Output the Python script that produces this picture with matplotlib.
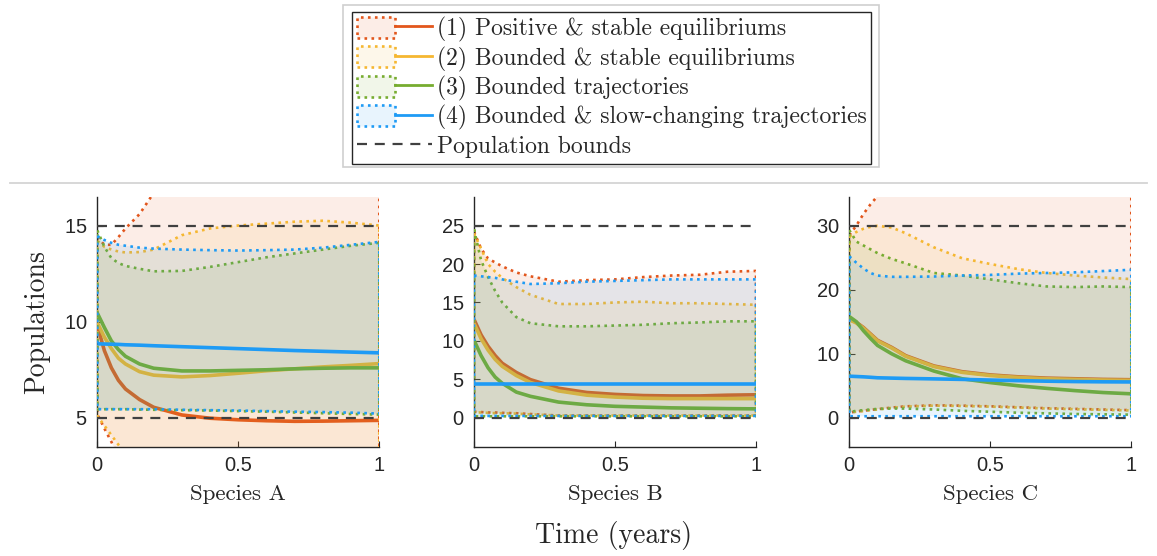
import matplotlib
matplotlib.use('Agg')
import matplotlib.pyplot as plt
from matplotlib.patches import Patch, Rectangle
from matplotlib.lines import Line2D
from matplotlib.legend_handler import HandlerTuple
from matplotlib.colors import to_rgba
import numpy as np

# ---------------- data ----------------
t = [0, 0.025, 0.05, 0.075, 0.1, 0.15, 0.2, 0.3, 0.4, 0.5, 0.6, 0.7, 0.8, 0.9, 1.0]

# Species A
a_red_hi = [14.4, 14.0, 14.0, 14.4, 14.85, 15.6, 16.7, 19, 21, 23, 25, 27, 29, 31, 33]
a_red_lo = [5.2, 4.45, 3.75, 3.0, 2.4, 1.5, 1.0, 0.5, 0.3, 0.2, 0.1, 0.1, 0.1, 0.1, 0.1]
a_red_mu = [9.8, 8.5, 7.6, 6.95, 6.5, 5.95, 5.55, 5.15, 4.98, 4.9, 4.85, 4.82, 4.83, 4.85, 4.87]
a_yel_hi = [14.2, 13.9, 13.75, 13.65, 13.6, 13.62, 13.75, 14.5, 14.85, 15.0, 15.1, 15.2, 15.25, 15.15, 15.0]
a_yel_lo = [5.1, 4.6, 4.1, 3.6, 3.1, 2.4, 1.8, 1.2, 1.0, 0.8, 0.7, 0.6, 0.5, 0.5, 0.5]
a_yel_mu = [9.95, 9.2, 8.6, 8.1, 7.8, 7.4, 7.22, 7.13, 7.2, 7.32, 7.45, 7.55, 7.65, 7.73, 7.82]
a_grn_hi = [14.75, 13.9, 13.3, 13.05, 12.9, 12.75, 12.62, 12.64, 12.85, 13.1, 13.35, 13.55, 13.75, 13.95, 14.1]
a_grn_lo = [5.45, 5.45, 5.45, 5.45, 5.45, 5.43, 5.42, 5.4, 5.38, 5.35, 5.32, 5.28, 5.24, 5.2, 5.17]
a_grn_mu = [10.45, 9.7, 9.0, 8.55, 8.2, 7.8, 7.58, 7.44, 7.44, 7.47, 7.5, 7.55, 7.58, 7.6, 7.6]
a_blu_hi = [14.45, 14.25, 14.1, 14.0, 13.95, 13.85, 13.8, 13.75, 13.72, 13.7, 13.72, 13.75, 13.85, 14.0, 14.15]
a_blu_lo = [5.45, 5.45, 5.45, 5.45, 5.45, 5.45, 5.45, 5.42, 5.4, 5.38, 5.35, 5.32, 5.3, 5.27, 5.22]
a_blu_mu = [8.85, 8.84, 8.83, 8.82, 8.8, 8.78, 8.75, 8.7, 8.65, 8.6, 8.55, 8.5, 8.46, 8.42, 8.38]

# Species B
b_red_hi = [24.2, 22.0, 20.7, 20.2, 19.7, 18.9, 18.4, 17.7, 17.9, 18.0, 18.3, 18.5, 18.6, 19.0, 19.1]
b_red_lo = [0.8, 0.75, 0.7, 0.7, 0.65, 0.6, 0.5, 0.3, 0.3, 0.3, 0.3, 0.3, 0.3, 0.3, 0.3]
b_red_mu = [12.8, 10.8, 9.3, 8.1, 7.1, 5.9, 4.97, 3.85, 3.3, 3.05, 2.9, 2.85, 2.85, 2.95, 3.0]
b_yel_hi = [24.0, 22.0, 20.0, 19.0, 18.2, 17.0, 16.0, 14.8, 14.8, 15.0, 15.1, 14.9, 14.9, 14.8, 14.7]
b_yel_lo = [0.7, 0.7, 0.65, 0.6, 0.6, 0.55, 0.45, 0.3, 0.3, 0.3, 0.3, 0.3, 0.3, 0.3, 0.3]
b_yel_mu = [12.3, 10.3, 8.8, 7.6, 6.7, 5.5, 4.6, 3.5, 2.95, 2.7, 2.55, 2.5, 2.5, 2.5, 2.5]
b_grn_hi = [24.5, 20.5, 18.3, 16.5, 15.0, 13.1, 12.3, 11.9, 11.9, 12.0, 12.1, 12.3, 12.4, 12.55, 12.55]
b_grn_lo = [0.2, 0.2, 0.2, 0.2, 0.2, 0.2, 0.2, 0.2, 0.2, 0.2, 0.2, 0.2, 0.2, 0.2, 0.2]
b_grn_mu = [10.1, 8.1, 6.5, 5.3, 4.5, 3.35, 2.8, 2.05, 1.7, 1.5, 1.4, 1.3, 1.25, 1.2, 1.17]
b_blu_hi = [18.5, 18.4, 18.3, 18.2, 18.0, 17.7, 17.4, 17.5, 17.7, 17.8, 17.9, 18.0, 18.0, 18.0, 18.0]
b_blu_lo = [0.25, 0.25, 0.25, 0.25, 0.25, 0.25, 0.25, 0.25, 0.25, 0.25, 0.25, 0.25, 0.25, 0.25, 0.25]
b_blu_mu = [4.4, 4.4, 4.4, 4.4, 4.4, 4.4, 4.4, 4.4, 4.4, 4.4, 4.4, 4.4, 4.4, 4.4, 4.4]

# Species C
c_red_hi = [28.5, 30.0, 31.8, 33.3, 34.6, 37, 40, 45, 50, 55, 60, 65, 70, 75, 80]
c_red_lo = [0.8, 1.0, 1.1, 1.25, 1.35, 1.6, 1.8, 1.95, 1.9, 1.8, 1.65, 1.5, 1.4, 1.3, 1.2]
c_red_mu = [15.4, 14.9, 14.1, 13.1, 12.1, 11.0, 9.7, 8.1, 7.2, 6.7, 6.4, 6.2, 6.1, 6.0, 5.95]
c_yel_hi = [28.3, 29.0, 29.5, 29.8, 29.95, 29.7, 28.8, 26.6, 24.9, 24.0, 23.2, 22.6, 22.2, 21.9, 21.65]
c_yel_lo = [0.8, 0.95, 1.05, 1.2, 1.3, 1.55, 1.75, 1.9, 1.85, 1.75, 1.6, 1.45, 1.35, 1.25, 1.15]
c_yel_mu = [15.3, 14.8, 14.0, 13.0, 12.0, 10.9, 9.6, 8.0, 7.1, 6.6, 6.3, 6.1, 6.0, 5.9, 5.85]
c_grn_hi = [29.3, 27.5, 26.9, 26.3, 25.7, 24.8, 24.1, 22.6, 22.2, 21.6, 21.0, 20.5, 20.4, 20.5, 20.4]
c_grn_lo = [0.9, 1.1, 1.2, 1.3, 1.4, 1.45, 1.45, 1.3, 1.1, 0.95, 0.8, 0.7, 0.6, 0.55, 0.5]
c_grn_mu = [15.8, 15.0, 13.6, 12.4, 11.3, 10.0, 8.9, 7.3, 6.1, 5.5, 5.0, 4.6, 4.25, 3.95, 3.75]
c_blu_hi = [25.2, 24.2, 23.3, 22.6, 22.2, 22.0, 22.0, 22.05, 22.2, 22.3, 22.5, 22.6, 22.7, 22.9, 23.1]
c_blu_lo = [0.25, 0.25, 0.25, 0.25, 0.25, 0.25, 0.25, 0.25, 0.25, 0.25, 0.25, 0.25, 0.25, 0.25, 0.25]
c_blu_mu = [6.5, 6.45, 6.4, 6.33, 6.25, 6.2, 6.15, 6.08, 6.0, 5.9, 5.8, 5.72, 5.66, 5.62, 5.6]

species = ['Species A', 'Species B', 'Species C']
bounds = [(5, 15), (0, 25), (0, 30)]
yticks = [[5, 10, 15], [0, 5, 10, 15, 20, 25], [0, 10, 20, 30]]
xticks = [0, 0.5, 1]
xticklabels = ['0', '0.5', '1']
legend_labels = ['(1) Positive & stable equilibriums',
                 '(2) Bounded & stable equilibriums',
                 '(3) Bounded trajectories',
                 '(4) Bounded & slow-changing trajectories',
                 'Population bounds']

panels = [
    [(a_red_lo, a_red_hi, a_red_mu), (a_yel_lo, a_yel_hi, a_yel_mu),
     (a_grn_lo, a_grn_hi, a_grn_mu), (a_blu_lo, a_blu_hi, a_blu_mu)],
    [(b_red_lo, b_red_hi, b_red_mu), (b_yel_lo, b_yel_hi, b_yel_mu),
     (b_grn_lo, b_grn_hi, b_grn_mu), (b_blu_lo, b_blu_hi, b_blu_mu)],
    [(c_red_lo, c_red_hi, c_red_mu), (c_yel_lo, c_yel_hi, c_yel_mu),
     (c_grn_lo, c_grn_hi, c_grn_mu), (c_blu_lo, c_blu_hi, c_blu_mu)],
]

# ---------------- style ----------------
colors = ['#E2561C', '#F5B731', '#77AC30', '#1E9BF5']
FILL_ALPHA = 0.1
SERIF = 'cmr10'
TICKFONT = 'Liberation Sans'
plt.rcParams['axes.formatter.use_mathtext'] = True

W, H = 1157, 556
fig = plt.figure(figsize=(W / 100, H / 100), dpi=100)

ax_left_px = [97.3, 474, 849.3]
ax_w_px = 282
ax_bottom_px = 446.7
ax_h_px = 250

tt = np.asarray(t)
axes = []
for k in range(3):
    ax = fig.add_axes([ax_left_px[k] / W, 1 - ax_bottom_px / H, ax_w_px / W, ax_h_px / H])
    axes.append(ax)
    lo_b, hi_b = bounds[k]
    rng = hi_b - lo_b
    for i, (lo, hi, mu) in enumerate(panels[k]):
        xs = np.r_[tt, tt[::-1]]
        ys = np.r_[np.asarray(hi), np.asarray(lo)[::-1]]
        ax.fill(xs, ys, facecolor=to_rgba(colors[i], FILL_ALPHA), edgecolor=colors[i],
                linestyle=':', linewidth=1.9, zorder=2 + 2 * i)
        ax.plot(tt, mu, color=colors[i], linewidth=2.6, zorder=3 + 2 * i,
                solid_capstyle='butt')
    for b in bounds[k]:
        ax.plot([0, 1], [b, b], color='#404040', linestyle=(0, (4.5, 3.5)),
                linewidth=1.6, zorder=20)
    ax.set_xlim(0, 1)
    ax.set_ylim(lo_b - 0.15 * rng, hi_b + 0.15 * rng)
    ax.set_xticks(xticks)
    ax.set_xticklabels(xticklabels)
    ax.set_yticks(yticks[k])
    ax.tick_params(direction='in', length=4, width=0.8, color='#262626',
                   labelsize=14.5, labelcolor='#262626', pad=7)
    for lab in ax.get_xticklabels() + ax.get_yticklabels():
        lab.set_family(TICKFONT)
    for s in ['top', 'right']:
        ax.spines[s].set_visible(False)
    for s in ['left', 'bottom']:
        ax.spines[s].set_color('#262626')
        ax.spines[s].set_linewidth(1.0)
    ax.patch.set_alpha(0)
    ax.set_xlabel(species[k], family=SERIF, fontsize=16.5, color='#262626', va='center')
    ax.xaxis.set_label_coords(0.5, -0.19)

axes[0].set_ylabel('Populations', family=SERIF, fontsize=20, color='#262626', va='center')
axes[0].yaxis.set_label_coords((37 - 97.3) / ax_w_px, 0.5)

fig.text(614 / W, 1 - 535 / H, 'Time (years)', family=SERIF, fontsize=20,
         color='#262626', ha='center', va='center')

# separator line
fig.add_artist(Line2D([10 / W, 1147 / W], [1 - 183.3 / H, 1 - 183.3 / H],
                      color='#D4D4D4', linewidth=1.3, transform=fig.transFigure))

# legend
handles = []
for c in colors:
    p = Patch(facecolor=to_rgba(c, FILL_ALPHA), edgecolor=c, linestyle=':', linewidth=1.9)
    l = Line2D([], [], color=c, linewidth=2.0)
    handles.append((p, l))
handles.append(Line2D([], [], color='#404040', linestyle=(0, (4.5, 3.5)), linewidth=1.6))

leg = fig.legend(handles, legend_labels, loc='upper center',
                 bbox_to_anchor=(611.5 / W, 1 - 11.7 / H),
                 handler_map={tuple: HandlerTuple(ndivide=None, pad=0)},
                 prop={'family': SERIF, 'size': 17},
                 handlelength=3.2, handleheight=1.0, handletextpad=0.18,
                 borderpad=0.22, labelspacing=0.18, borderaxespad=0,
                 fancybox=False, framealpha=1, edgecolor='#262626')
leg.get_frame().set_linewidth(1.0)
for txt in leg.get_texts():
    txt.set_color('#262626')

fig.add_artist(Rectangle((343 / W, 1 - 167 / H), (879 - 343) / W, (167 - 5) / H,
                         transform=fig.transFigure, fill=False,
                         edgecolor='#CFCFCF', linewidth=1.2, zorder=0))

fig.savefig('out.png', dpi=100)
